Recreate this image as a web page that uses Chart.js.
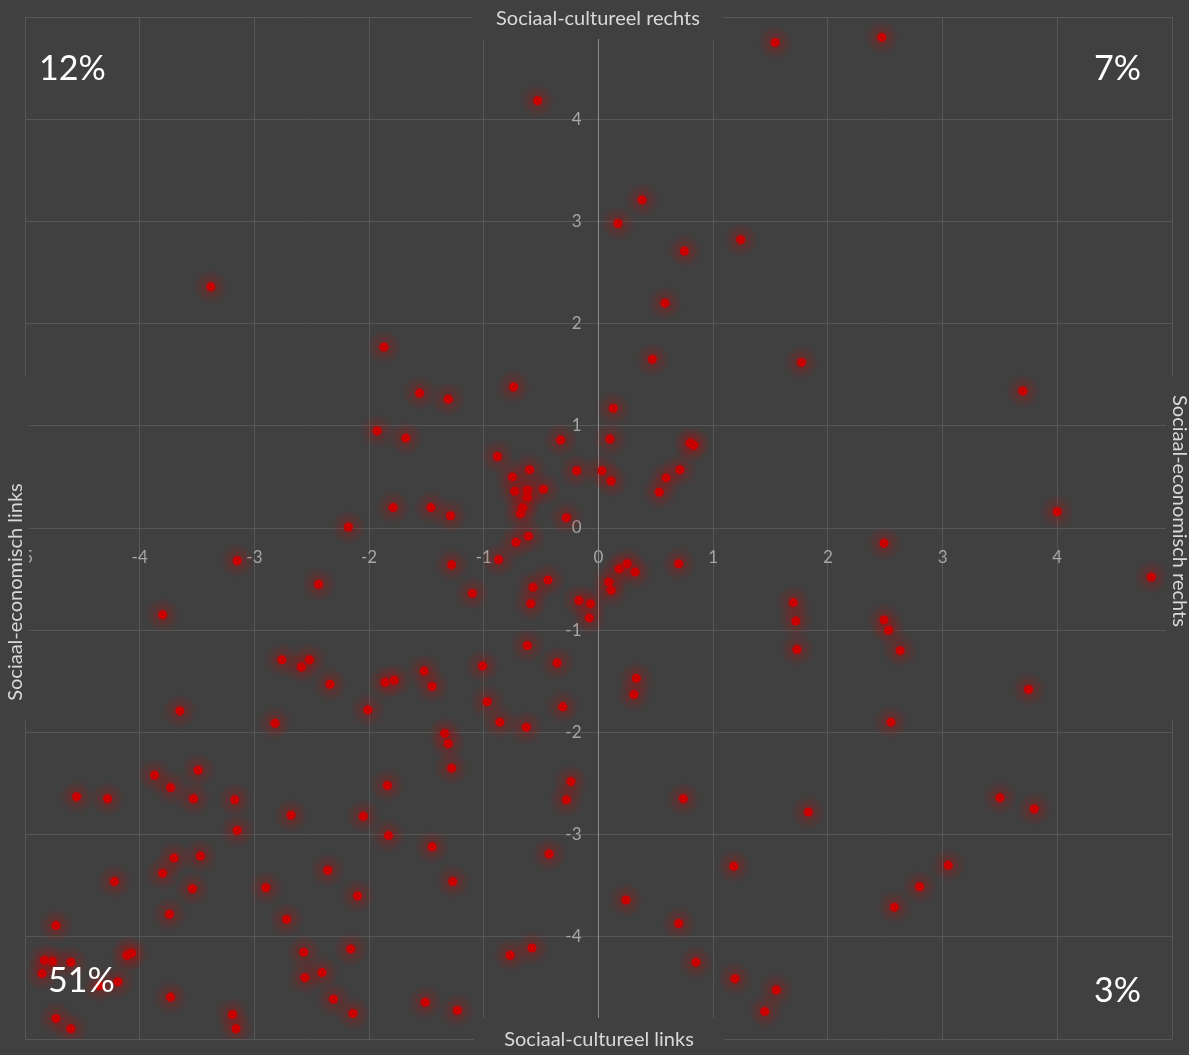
<!DOCTYPE html>
<html>
<head>
<meta charset="utf-8">
<script src="https://cdn.jsdelivr.net/npm/chart.js@4/dist/chart.umd.min.js"></script>
<style>
html,body{margin:0;padding:0;background:#404040;overflow:hidden}
#wrap{width:1189px;height:1055px;position:relative}
</style>
</head>
<body>
<div id="wrap"><canvas id="c" width="1189" height="1055"></canvas></div>
<script>
// ---- data (x = sociaal-economisch links/rechts, y = sociaal-cultureel links/rechts) ----
const upperLeftX = [-0.53,-3.38,-1.87,-1.56,-1.31,-0.74,-1.93,-1.68,-0.33,-0.88,-0.60,-0.19,-0.75,-0.73,-0.62,-0.48,-0.62,-0.66,-0.68,-1.79,-1.46,-1.29,-0.28,-2.18];
const upperLeftY = [4.18,2.36,1.77,1.32,1.26,1.38,0.95,0.88,0.86,0.70,0.57,0.56,0.50,0.36,0.37,0.38,0.30,0.20,0.14,0.20,0.20,0.12,0.10,0.01];

const upperRightX = [1.54,2.47,0.38,0.17,0.75,1.24,0.58,0.47,1.77,3.70,0.13,0.10,0.80,0.83,0.03,0.11,0.71,0.59,0.53,4.00];
const upperRightY = [4.75,4.80,3.21,2.98,2.71,2.82,2.20,1.65,1.62,1.34,1.17,0.87,0.83,0.81,0.56,0.46,0.57,0.49,0.35,0.16];

const lowerLeftX = [-0.61,-0.72,-0.87,-1.28,-3.15,-2.44,-1.10,-0.44,-0.57,-0.59,-0.17,-0.07,-0.08,-3.80,-0.62,-2.76,-2.59,-2.52,-2.34,-1.86,-1.78,-1.52,-1.45,-1.01,-0.36,-0.97,-0.31,-2.01,-3.65,-2.82,-0.86,-0.63,-1.34,-1.31,-1.28,-3.49,-3.87,-3.73,-4.55,-4.28,-3.53,-3.17,-1.84,-0.24,-0.28,-2.68,-2.05,-3.15,-1.83,-1.45,-0.43,-3.70,-3.47,-3.80,-2.36,-4.22,-1.27,-3.54,-2.90,-2.10,-3.74,-2.72,-4.73,-2.57,-2.16,-0.77,-0.58,-4.11,-4.07,-4.83,-4.76,-4.60,-4.85,-4.19,-4.35,-4.73,-4.60,-3.73,-3.19,-3.16,-2.56,-2.41,-2.31,-2.14,-1.51,-1.23];
const lowerLeftY = [-0.08,-0.14,-0.31,-0.36,-0.32,-0.55,-0.64,-0.51,-0.58,-0.74,-0.71,-0.74,-0.88,-0.85,-1.15,-1.29,-1.36,-1.29,-1.53,-1.51,-1.49,-1.40,-1.55,-1.35,-1.32,-1.70,-1.75,-1.78,-1.79,-1.91,-1.90,-1.95,-2.01,-2.11,-2.35,-2.37,-2.42,-2.54,-2.63,-2.65,-2.65,-2.66,-2.52,-2.48,-2.66,-2.81,-2.82,-2.96,-3.01,-3.12,-3.19,-3.23,-3.21,-3.38,-3.35,-3.46,-3.46,-3.53,-3.52,-3.60,-3.78,-3.83,-3.89,-4.15,-4.12,-4.18,-4.11,-4.18,-4.16,-4.23,-4.24,-4.25,-4.36,-4.44,-4.48,-4.80,-4.90,-4.59,-4.76,-4.90,-4.40,-4.35,-4.61,-4.75,-4.64,-4.72];

const lowerRightX = [2.49,0.70,0.25,0.18,0.32,0.09,0.11,4.82,1.70,1.72,1.73,2.49,2.53,2.63,0.33,0.31,3.75,2.55,0.74,1.83,3.50,3.80,1.18,3.05,2.80,2.58,0.24,0.70,0.85,1.19,1.55,1.45];
const lowerRightY = [-0.15,-0.35,-0.35,-0.40,-0.43,-0.53,-0.61,-0.48,-0.73,-0.91,-1.19,-0.90,-1.00,-1.20,-1.47,-1.63,-1.58,-1.90,-2.65,-2.78,-2.64,-2.75,-3.31,-3.30,-3.51,-3.71,-3.64,-3.87,-4.25,-4.41,-4.52,-4.73];

const tickValues = [-5,-4,-3,-2,-1,0,1,2,3,4,5];
const quadrantLabels = ['12%','7%','51%','3%'];
const axisTitles = ['Sociaal-cultureel rechts','Sociaal-cultureel links','Sociaal-economisch links','Sociaal-economisch rechts'];

// ---- build points ----
function toPoints(xs, ys){ return xs.map((x,i)=>({x:x, y:ys[i]})); }
const allPoints = [].concat(
  toPoints(upperLeftX, upperLeftY),
  toPoints(upperRightX, upperRightY),
  toPoints(lowerLeftX, lowerLeftY),
  toPoints(lowerRightX, lowerRightY)
);

const FONT = 'Lato, "Open Sans", sans-serif';
const BG = '#404040';
const GRID = '#575757';

// soft red glow used as point style behind the dots
const glow = document.createElement('canvas');
glow.width = 40; glow.height = 40;
(function(){
  const g = glow.getContext('2d');
  const grad = g.createRadialGradient(20,20,0,20,20,18);
  grad.addColorStop(0, 'rgba(200,0,0,0.38)');
  grad.addColorStop(0.25, 'rgba(200,0,0,0.30)');
  grad.addColorStop(0.55, 'rgba(200,0,0,0.14)');
  grad.addColorStop(1, 'rgba(200,0,0,0)');
  g.fillStyle = grad;
  g.fillRect(0,0,40,40);
})();

function zeroPadding(scale){
  scale.paddingLeft = 0; scale.paddingRight = 0;
  scale.paddingTop = 0; scale.paddingBottom = 0;
}

const bgPlugin = {
  id: 'bg',
  beforeDraw(chart){
    const ctx = chart.ctx;
    ctx.save();
    ctx.fillStyle = BG;
    ctx.fillRect(0,0,chart.width,chart.height);
    ctx.restore();
    // place y tick labels left of the vertical axis
    const px = chart.scales.x.getPixelForValue(0);
    chart.scales.y.getLabelItems().forEach(it => {
      it.options.translation[0] = px - 17;
      it.options.textAlign = 'right';
    });
  },
  afterDraw(chart){
    const ctx = chart.ctx;
    ctx.save();
    // axis title boxes
    ctx.fillStyle = BG;
    ctx.fillRect(473,0,250,39);
    ctx.fillRect(474,1018,250,37);
    ctx.fillRect(0,377,29,343);
    ctx.fillRect(1166,377,23,343);
    ctx.fillStyle = '#d9d9d9';
    ctx.font = '20px ' + FONT;
    ctx.textAlign = 'center';
    ctx.textBaseline = 'middle';
    ctx.fillText(axisTitles[0], 598, 19);
    ctx.fillText(axisTitles[1], 599, 1040);
    ctx.save();
    ctx.translate(16, 592);
    ctx.rotate(-Math.PI/2);
    ctx.fillText(axisTitles[2], 0, 0);
    ctx.restore();
    ctx.save();
    ctx.translate(1179, 511);
    ctx.rotate(Math.PI/2);
    ctx.fillText(axisTitles[3], 0, 0);
    ctx.restore();
    // quadrant shares
    ctx.fillStyle = '#ffffff';
    ctx.font = '34px ' + FONT;
    ctx.textBaseline = 'alphabetic';
    ctx.textAlign = 'left';
    ctx.fillText(quadrantLabels[0], 39, 80);
    ctx.fillText(quadrantLabels[2], 48, 992);
    ctx.textAlign = 'right';
    ctx.fillText(quadrantLabels[1], 1141, 80);
    ctx.fillText(quadrantLabels[3], 1141, 1002);
    ctx.restore();
  }
};

new Chart(document.getElementById('c'), {
  type: 'scatter',
  data: {
    datasets: [{
      data: allPoints,
      pointStyle: glow,
      pointRadius: 20,
      pointHoverRadius: 20
    }, {
      data: allPoints,
      pointRadius: 4.5,
      pointBackgroundColor: '#cc0000',
      pointBorderWidth: 0,
      pointHoverRadius: 4.5
    }]
  },
  options: {
    responsive: false,
    devicePixelRatio: 1,
    animation: false,
    events: [],
    layout: { autoPadding: false, padding: { left: 25, right: 17, top: 17, bottom: 16 } },
    plugins: { legend: { display: false }, tooltip: { enabled: false } },
    scales: {
      x: {
        type: 'linear',
        min: -5, max: 5,
        position: { y: 0 },
        afterBuildTicks(scale){ scale.ticks = tickValues.map(v => ({value: v})); },
        afterFit: zeroPadding,
        ticks: { color: '#a6a6a6', font: { family: FONT, size: 17 }, padding: 19, maxRotation: 0, autoSkip: false },
        grid: { color: GRID, lineWidth: 1, drawTicks: false },
        border: { display: true, color: GRID, width: 1 }
      },
      y: {
        type: 'linear',
        min: -5, max: 5,
        position: { x: 0 },
        afterBuildTicks(scale){ scale.ticks = tickValues.map(v => ({value: v})); },
        afterFit: zeroPadding,
        ticks: { color: '#a6a6a6', font: { family: FONT, size: 17 }, padding: 17, autoSkip: false },
        grid: { color: GRID, lineWidth: 1, drawTicks: false },
        border: { display: true, color: '#8c8c8c', width: 1 }
      }
    }
  },
  plugins: [bgPlugin]
});
</script>
</body>
</html>
